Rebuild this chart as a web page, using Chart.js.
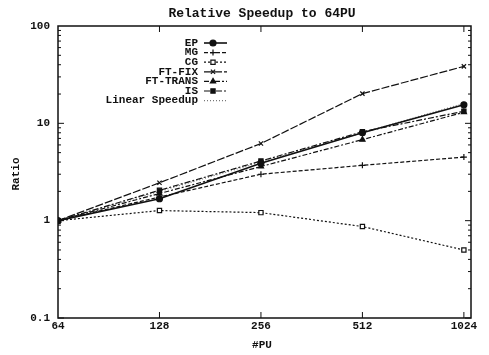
<!DOCTYPE html>
<html>
<head>
<meta charset="utf-8">
<script src="https://cdn.jsdelivr.net/npm/chart.js@4/dist/chart.umd.min.js"></script>
<style>
  html, body { margin: 0; padding: 0; background: #fff; }
  #wrap { width: 489px; height: 355px; }
</style>
</head>
<body>
<div id="wrap"><canvas id="grafico"></canvas></div>
<script>
const pus = [64, 128, 256, 512, 1024];
const yTicks = [0.1, 1, 10, 100];

const ep = [1, 1.68, 3.9, 8.0, 15.5];
const mg = [1, 1.75, 3.0, 3.7, 4.5];
const cg = [1, 1.27, 1.21, 0.87, 0.50];
const ftFix = [1, 2.45, 6.2, 20.2, 38.5];
const ftTrans = [1, 1.9, 3.6, 6.8, 13.0];
const is = [1, 2.05, 4.1, 8.2, 13.3];
const linear = [1, 2, 4, 8, 16];

const fonte = "bold 11px 'Liberation Mono', 'DejaVu Sans Mono', monospace";

function serie(nome, valores, estilo, traco, cheio, cor) {
    return {
        label: nome,
        data: pus.map((p, i) => ({ x: p, y: valores[i] })),
        borderColor: cor || "#111",
        backgroundColor: cheio ? (cor || "#111") : "#fff",
        borderWidth: traco.length ? 1.2 : 1.6,
        borderDash: traco,
        pointStyle: estilo,
        pointRadius: estilo ? 3 : 0,
        pointBorderWidth: 1.2,
        pointBorderColor: cor || "#111",
        tension: 0
    };
}

const conjuntos = [
    serie("EP", ep, "circle", [], true),
    serie("MG", mg, "cross", [4, 2], true),
    serie("CG", cg, "rect", [2, 2], false),
    serie("FT-FIX", ftFix, "crossRot", [8, 2], true),
    serie("FT-TRANS", ftTrans, "triangle", [5, 2, 2, 2], true),
    serie("IS", is, "rect", [6, 2, 2, 2], true),
    serie("Linear Speedup", linear, false, [1, 2], false, "#777")
];

// moldura, marcas interiores, titulos e legenda
const extras = {
    id: "extras",
    afterDraw(chart) {
        const ctx = chart.ctx;
        const a = chart.chartArea;
        const sx = chart.scales.x, sy = chart.scales.y;
        ctx.save();
        ctx.strokeStyle = "#111";
        ctx.lineWidth = 1.5;
        ctx.strokeRect(a.left, a.top, a.right - a.left, a.bottom - a.top);

        ctx.lineWidth = 1;
        ctx.beginPath();
        for (let d = 0.1; d < 100; d *= 10) {
            for (let k = 1; k < 10; k++) {
                const y = sy.getPixelForValue(d * k);
                const len = k === 1 ? 6 : 3;
                ctx.moveTo(a.left, y); ctx.lineTo(a.left + len, y);
                ctx.moveTo(a.right, y); ctx.lineTo(a.right - len, y);
            }
        }
        pus.slice(1).forEach(p => {
            const x = sx.getPixelForValue(p);
            ctx.moveTo(x, a.bottom); ctx.lineTo(x, a.bottom - 6);
            ctx.moveTo(x, a.top); ctx.lineTo(x, a.top + 6);
        });
        ctx.stroke();

        ctx.fillStyle = "#111";
        ctx.font = "bold 13px 'Liberation Mono', monospace";
        ctx.textAlign = "center";
        ctx.textBaseline = "middle";
        ctx.fillText("Relative Speedup to 64PU", 262, 14);
        ctx.font = fonte;
        ctx.fillText("#PU", 262, 345);
        ctx.save();
        ctx.translate(16, 174);
        ctx.rotate(-Math.PI / 2);
        ctx.fillText("Ratio", 0, 0);
        ctx.restore();

        // legenda
        ctx.font = "bold 11px 'Liberation Mono', monospace";
        ctx.textAlign = "right";
        chart.data.datasets.forEach((ds, i) => {
            const y = 43 + i * 9.6;
            ctx.fillStyle = "#111";
            ctx.fillText(ds.label, 198, y);
            ctx.save();
            ctx.strokeStyle = ds.borderColor;
            ctx.lineWidth = ds.borderWidth;
            ctx.setLineDash(ds.borderDash);
            ctx.beginPath();
            ctx.moveTo(204, y); ctx.lineTo(227, y);
            ctx.stroke();
            ctx.restore();
            if (ds.pointStyle) {
                ctx.save();
                ctx.strokeStyle = ds.pointBorderColor;
                ctx.fillStyle = ds.backgroundColor;
                ctx.lineWidth = 1.2;
                Chart.helpers.drawPoint(ctx, { pointStyle: ds.pointStyle, radius: 3, rotation: 0, borderWidth: 1.2 }, 213, y);
                ctx.restore();
            }
        });
        ctx.restore();
    }
};

new Chart(document.getElementById("grafico"), {
    type: "line",
    data: { datasets: conjuntos },
    options: {
        responsive: true,
        maintainAspectRatio: false,
        animation: false,
        layout: { padding: { top: 26, right: 18, left: 0, bottom: 0 } },
        plugins: {
            legend: { display: false },
            title: { display: false },
            tooltip: { enabled: false }
        },
        scales: {
            x: {
                type: "logarithmic",
                min: 64,
                max: 1075,
                afterBuildTicks: s => { s.ticks = pus.map(v => ({ value: v })); },
                afterFit: s => { s.height = 37; },
                grid: { display: false, drawTicks: false },
                border: { display: false },
                ticks: {
                    autoSkip: false,
                    maxRotation: 0,
                    padding: 2,
                    color: "#111",
                    font: { family: "'Liberation Mono', monospace", size: 11, weight: "bold" },
                    callback: v => String(v)
                }
            },
            y: {
                type: "logarithmic",
                min: 0.1,
                max: 100,
                afterBuildTicks: s => { s.ticks = yTicks.map(v => ({ value: v })); },
                afterFit: s => { s.width = 58; },
                grid: { display: false, drawTicks: false },
                border: { display: false },
                ticks: {
                    padding: 8,
                    color: "#111",
                    font: { family: "'Liberation Mono', monospace", size: 11, weight: "bold" },
                    callback: v => String(v)
                }
            }
        }
    },
    plugins: [extras]
});
</script>
</body>
</html>
